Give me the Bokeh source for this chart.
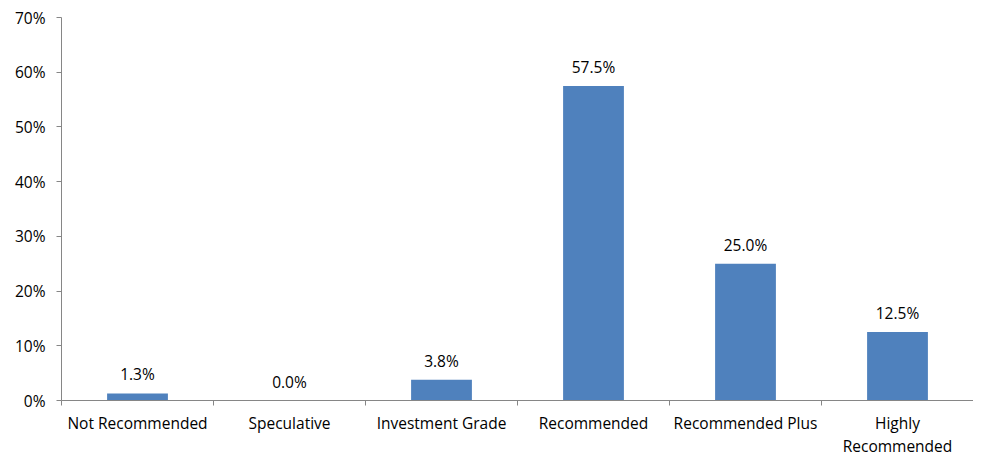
from bokeh.plotting import figure
from bokeh.models import ColumnDataSource, FixedTicker, NumeralTickFormatter, Range1d, LabelSet
from bokeh.core.properties import value
from bokeh.embed import file_html
from bokeh.resources import INLINE

categories = ["Not Recommended", "Speculative", "Investment Grade", "Recommended",
              "Recommended Plus", "Highly\nRecommended"]
values = [0.013, 0.000, 0.038, 0.575, 0.250, 0.125]
y_ticks = [0.0, 0.1, 0.2, 0.3, 0.4, 0.5, 0.6, 0.7]

FONT = "Open Sans"
FS = "15.5px"
AXIS_COLOR = "#868686"

xs = [i + 0.5 for i in range(len(categories))]
src = ColumnDataSource(dict(x=xs, top=values, label=[f"{v*100:.1f}%" for v in values]))

p = figure(width=973, height=457, output_backend="svg", toolbar_location=None,
           x_range=Range1d(0, len(categories)), y_range=Range1d(0, 0.7),
           min_border_left=61, min_border_right=0, min_border_top=17, min_border_bottom=57)
p.frame_width = 912
p.frame_height = 383
p.outline_line_color = None
p.xgrid.visible = False
p.ygrid.visible = False

p.vbar(x="x", top="top", width=0.4, bottom=0, source=src, fill_color="#4F81BD", line_color=None)

labels = LabelSet(x="x", y="top", text="label", source=src, text_align="center",
                  text_baseline="bottom", y_offset=8, text_font=value(FONT),
                  text_font_size=value(FS), text_color="#000000")
p.add_layout(labels)

# x axis
p.xaxis.ticker = FixedTicker(ticks=xs, minor_ticks=list(range(len(categories) + 1)))
p.xaxis.major_label_overrides = {x: c for x, c in zip(xs, categories)}
p.xaxis.major_tick_out = 0
p.xaxis.major_tick_in = 0
p.xaxis.minor_tick_out = 5
p.xaxis.minor_tick_in = 0
p.xaxis.axis_line_color = AXIS_COLOR
p.xaxis.minor_tick_line_color = AXIS_COLOR
p.xaxis.major_label_standoff = 6
p.xaxis.major_label_text_font = FONT
p.xaxis.major_label_text_font_size = FS
p.xaxis.major_label_text_line_height = 1.05
p.xaxis.major_label_text_color = "#000000"

# y axis
p.yaxis.ticker = FixedTicker(ticks=y_ticks, minor_ticks=[])
p.yaxis.formatter = NumeralTickFormatter(format="0%")
p.yaxis.major_tick_out = 5
p.yaxis.major_tick_in = 0
p.yaxis.axis_line_color = AXIS_COLOR
p.yaxis.major_tick_line_color = AXIS_COLOR
p.yaxis.major_label_standoff = 11
p.yaxis.major_label_text_font = FONT
p.yaxis.major_label_text_font_size = FS
p.yaxis.major_label_text_color = "#000000"

open("out.html", "w").write(file_html(p, INLINE))
